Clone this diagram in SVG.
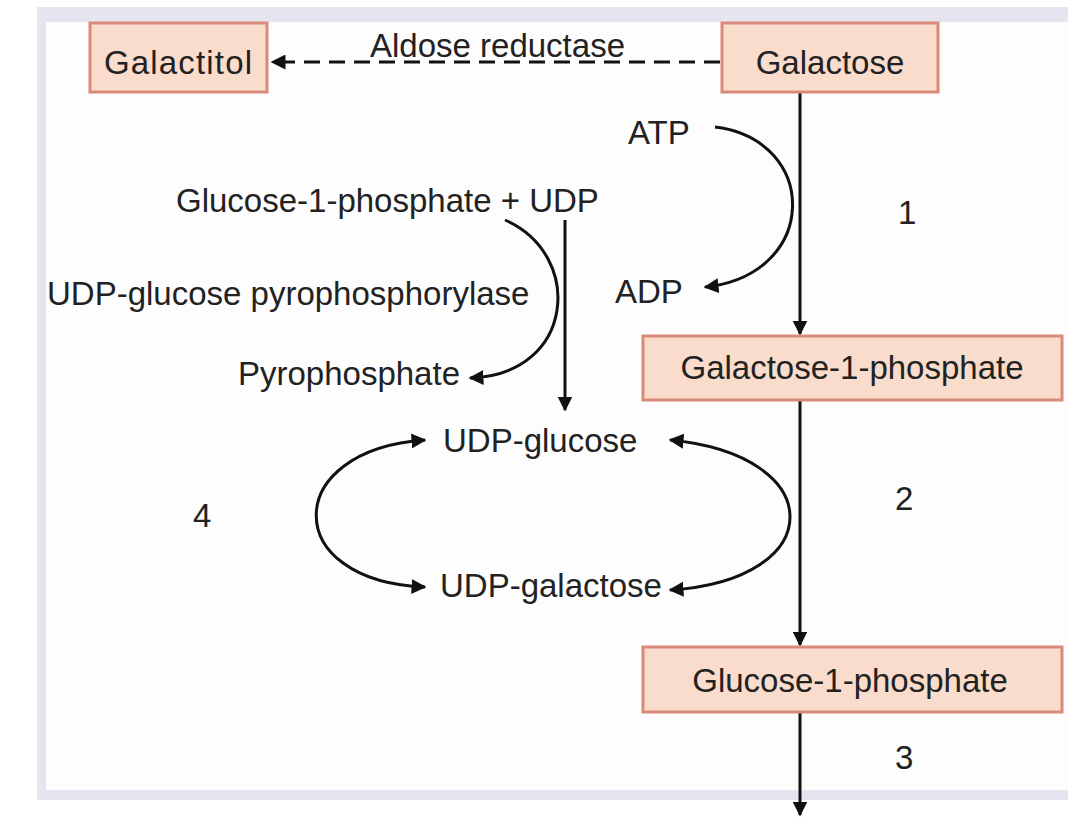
<svg xmlns="http://www.w3.org/2000/svg" width="1068" height="821" viewBox="0 0 1068 821">
<style>
text{font-family:"Liberation Sans",Arial,sans-serif;font-size:33px;fill:#222}
.box{fill:#f9dccb;stroke:#d98a7a;stroke-width:3}
.ln{fill:none;stroke:#111;stroke-width:3}
</style>
<defs>
<marker id="ah" viewBox="0 0 10 10" refX="9" refY="5" markerWidth="5" markerHeight="5" orient="auto-start-reverse"><path d="M0,0L10,5L0,10z" fill="#111"/></marker>
</defs>
<rect x="0" y="0" width="1068" height="821" fill="#fff"/>
<rect x="37" y="7" width="1031" height="793" fill="#e5e5ef"/>
<rect x="46" y="22" width="1022" height="768" fill="#fdfdfd"/>
<g id="connectors">
<path class="ln" d="M720,62H272" stroke-dasharray="16,9" marker-end="url(#ah)"/>
<path class="ln" d="M800,92V334" marker-end="url(#ah)"/>
<path class="ln" d="M800,400V645" marker-end="url(#ah)"/>
<path class="ln" d="M800,712V815" marker-end="url(#ah)"/>
<path class="ln" d="M715,127C820,140 820,275 705,287" marker-end="url(#ah)"/>
<path class="ln" d="M565,220V410" marker-end="url(#ah)"/>
<path class="ln" d="M505,220C585,255 575,375 470,378" marker-end="url(#ah)"/>
<path class="ln" d="M670,440C830,455 830,580 670,590" marker-start="url(#ah)" marker-end="url(#ah)"/>
<path class="ln" d="M425,440C280,450 280,582 425,587" marker-start="url(#ah)" marker-end="url(#ah)"/>
</g>
<g id="galactitol"><rect class="box" x="90" y="23" width="177" height="69"/><text x="178" y="74" text-anchor="middle" textLength="148">Galactitol</text></g>
<g id="galactose"><rect class="box" x="722" y="23" width="216" height="69"/><text x="830" y="74" text-anchor="middle">Galactose</text></g>
<g id="gal1p"><rect class="box" x="643" y="336" width="419" height="64"/><text x="852" y="379" text-anchor="middle">Galactose-1-phosphate</text></g>
<g id="glc1p"><rect class="box" x="643" y="647" width="419" height="65"/><text x="850" y="692" text-anchor="middle">Glucose-1-phosphate</text></g>
<g id="labels">
<text x="370" y="57">Aldose reductase</text>
<text x="628" y="144">ATP</text>
<text x="615" y="303">ADP</text>
<text x="898" y="224">1</text>
<text x="176" y="212">Glucose-1-phosphate + UDP</text>
<text x="47" y="305">UDP-glucose pyrophosphorylase</text>
<text x="238" y="385">Pyrophosphate</text>
<text x="443" y="452">UDP-glucose</text>
<text x="440" y="597">UDP-galactose</text>
<text x="193" y="527">4</text>
<text x="895" y="510">2</text>
<text x="895" y="769">3</text>
</g>
</svg>
